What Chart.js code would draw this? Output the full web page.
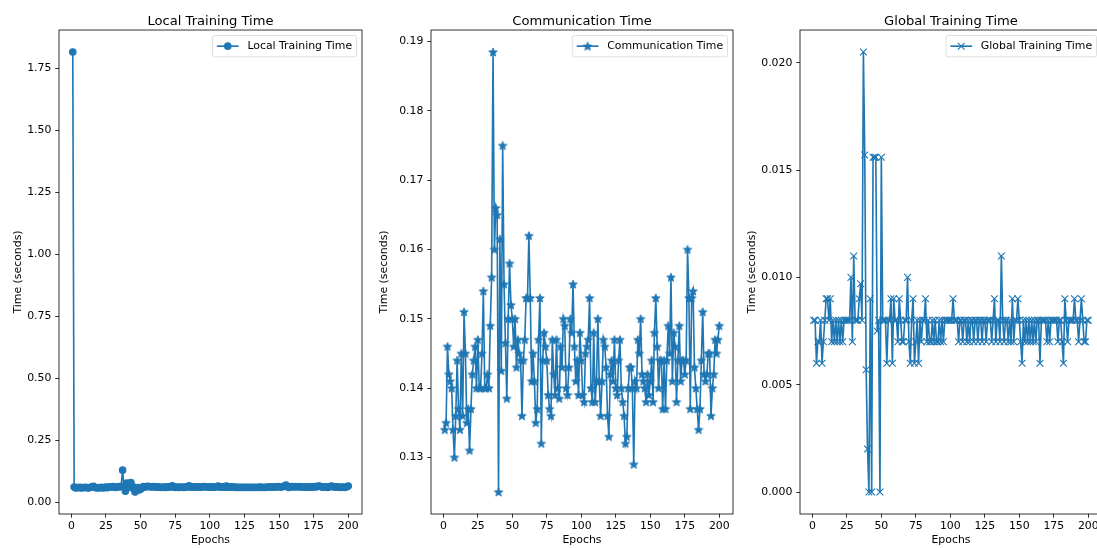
<!DOCTYPE html>
<html>
<head>
<meta charset="utf-8">
<title>Training Time</title>
<script src="https://cdn.jsdelivr.net/npm/chart.js@4.4.1/dist/chart.umd.min.js"></script>
<style>
  html, body { margin: 0; padding: 0; background: #fff; overflow: hidden; width: 1097px; height: 548px; }
  .plot { position: absolute; top: 0; }
</style>
</head>
<body>
<main></main>
<script>
// epochs 1..200
const epochs = Array.from({length: 200}, (_, i) => i + 1);

const localTime = [
  1.815, 0.062, 0.058, 0.060, 0.059, 0.061, 0.058, 0.060, 0.059, 0.061,
  0.060, 0.058, 0.059, 0.061, 0.063, 0.065, 0.060, 0.059, 0.058, 0.060,
  0.059, 0.061, 0.058, 0.060, 0.062, 0.059, 0.061, 0.063, 0.062, 0.064,
  0.062, 0.060, 0.063, 0.064, 0.062, 0.065, 0.130, 0.064, 0.045, 0.078,
  0.062, 0.070, 0.080, 0.058, 0.062, 0.042, 0.055, 0.060, 0.050, 0.054,
  0.058, 0.064, 0.063, 0.062, 0.065, 0.064, 0.063, 0.062, 0.064, 0.063,
  0.061, 0.063, 0.062, 0.061, 0.060, 0.062, 0.061, 0.060, 0.063, 0.061,
  0.062, 0.064, 0.067, 0.061, 0.060, 0.062, 0.061, 0.060, 0.062, 0.061,
  0.060, 0.062, 0.061, 0.063, 0.067, 0.062, 0.061, 0.063, 0.062, 0.061,
  0.062, 0.063, 0.062, 0.061, 0.063, 0.064, 0.062, 0.063, 0.062, 0.061,
  0.063, 0.062, 0.061, 0.062, 0.063, 0.066, 0.062, 0.061, 0.062, 0.063,
  0.061, 0.066, 0.062, 0.061, 0.062, 0.063, 0.061, 0.062, 0.060, 0.061,
  0.060, 0.061, 0.060, 0.061, 0.060, 0.061, 0.060, 0.061, 0.060, 0.061,
  0.060, 0.061, 0.060, 0.061, 0.060, 0.062, 0.061, 0.060, 0.061, 0.060,
  0.061, 0.062, 0.061, 0.063, 0.062, 0.061, 0.063, 0.062, 0.064, 0.062,
  0.063, 0.062, 0.064, 0.066, 0.070, 0.063, 0.060, 0.062, 0.064, 0.063,
  0.062, 0.064, 0.063, 0.062, 0.064, 0.063, 0.061, 0.063, 0.062, 0.061,
  0.062, 0.063, 0.061, 0.063, 0.062, 0.064, 0.062, 0.065, 0.066, 0.064,
  0.062, 0.061, 0.063, 0.062, 0.060, 0.062, 0.064, 0.066, 0.063, 0.062,
  0.061, 0.063, 0.062, 0.060, 0.061, 0.062, 0.060, 0.061, 0.063, 0.066
];

const commTime = [
  0.134, 0.135, 0.146, 0.142, 0.141, 0.140, 0.134, 0.130, 0.136, 0.144,
  0.137, 0.134, 0.145, 0.136, 0.151, 0.145, 0.135, 0.137, 0.131, 0.137,
  0.142, 0.144, 0.146, 0.140, 0.147, 0.140, 0.140, 0.145, 0.154, 0.140,
  0.140, 0.142, 0.140, 0.149, 0.156, 0.1885, 0.160, 0.166, 0.165, 0.125,
  0.1615, 0.1425, 0.175, 0.155, 0.1465, 0.1385, 0.150, 0.158, 0.152, 0.150,
  0.146, 0.150, 0.143, 0.147, 0.145, 0.144, 0.136, 0.144, 0.147, 0.153,
  0.153, 0.162, 0.153, 0.141, 0.145, 0.141, 0.135, 0.137, 0.147, 0.153,
  0.132, 0.144, 0.148, 0.146, 0.144, 0.139, 0.137, 0.136, 0.147, 0.142,
  0.139, 0.147, 0.140, 0.1385, 0.146, 0.143, 0.150, 0.149, 0.140, 0.139,
  0.143, 0.150, 0.148, 0.155, 0.146, 0.141, 0.144, 0.139, 0.148, 0.144,
  0.139, 0.138, 0.145, 0.146, 0.147, 0.153, 0.140, 0.138, 0.148, 0.138,
  0.141, 0.150, 0.141, 0.136, 0.141, 0.147, 0.146, 0.143, 0.136, 0.133,
  0.142, 0.144, 0.141, 0.147, 0.140, 0.139, 0.144, 0.147, 0.140, 0.138,
  0.136, 0.132, 0.133, 0.140, 0.143, 0.143, 0.140, 0.129, 0.141, 0.140,
  0.147, 0.145, 0.150, 0.142, 0.141, 0.140, 0.138, 0.142, 0.139, 0.141,
  0.144, 0.138, 0.148, 0.153, 0.146, 0.140, 0.144, 0.144, 0.137, 0.144,
  0.137, 0.144, 0.149, 0.145, 0.156, 0.141, 0.148, 0.146, 0.138, 0.144,
  0.149, 0.141, 0.144, 0.144, 0.142, 0.144, 0.160, 0.153, 0.137, 0.153,
  0.154, 0.143, 0.140, 0.137, 0.134, 0.137, 0.144, 0.151, 0.142, 0.141,
  0.142, 0.145, 0.145, 0.136, 0.140, 0.142, 0.147, 0.145, 0.147, 0.149
];

const globalTime = [
  0.008, 0.008, 0.006, 0.007, 0.007, 0.008, 0.006, 0.007, 0.008, 0.009,
  0.009, 0.008, 0.009, 0.007, 0.008, 0.007, 0.008, 0.007, 0.008, 0.007,
  0.008, 0.007, 0.008, 0.008, 0.008, 0.008, 0.008, 0.010, 0.007, 0.011,
  0.008, 0.008, 0.008, 0.009, 0.0097, 0.008, 0.0205, 0.0157, 0.0057, 0.002,
  0.0, 0.009, 0.0, 0.0156, 0.0156, 0.0156, 0.0075, 0.008, 0.0, 0.0156,
  0.008, 0.008, 0.008, 0.006, 0.008, 0.008, 0.009, 0.006, 0.009, 0.008,
  0.008, 0.007, 0.009, 0.008, 0.007, 0.007, 0.008, 0.008, 0.010, 0.007,
  0.006, 0.008, 0.009, 0.006, 0.007, 0.008, 0.006, 0.008, 0.007, 0.008,
  0.008, 0.009, 0.007, 0.008, 0.007, 0.007, 0.008, 0.007, 0.008, 0.007,
  0.007, 0.008, 0.007, 0.008, 0.007, 0.008, 0.008, 0.008, 0.008, 0.008,
  0.008, 0.009, 0.008, 0.008, 0.008, 0.007, 0.008, 0.008, 0.007, 0.008,
  0.008, 0.007, 0.008, 0.007, 0.008, 0.008, 0.007, 0.008, 0.008, 0.007,
  0.008, 0.008, 0.007, 0.008, 0.008, 0.007, 0.008, 0.008, 0.008, 0.007,
  0.008, 0.009, 0.007, 0.008, 0.008, 0.007, 0.011, 0.008, 0.007, 0.008,
  0.008, 0.007, 0.008, 0.007, 0.009, 0.007, 0.008, 0.008, 0.009, 0.008,
  0.007, 0.006, 0.008, 0.007, 0.008, 0.007, 0.008, 0.007, 0.008, 0.007,
  0.008, 0.007, 0.008, 0.008, 0.006, 0.008, 0.008, 0.008, 0.008, 0.007,
  0.008, 0.007, 0.008, 0.008, 0.008, 0.008, 0.008, 0.007, 0.008, 0.008,
  0.007, 0.006, 0.009, 0.008, 0.007, 0.008, 0.008, 0.008, 0.008, 0.009,
  0.008, 0.008, 0.007, 0.008, 0.009, 0.008, 0.007, 0.007, 0.008, 0.008
];

const epochTicks = [0, 25, 50, 75, 100, 125, 150, 175, 200];
const localTicks = [0, 0.25, 0.5, 0.75, 1.0, 1.25, 1.5, 1.75];
const commTicks = [0.13, 0.14, 0.15, 0.16, 0.17, 0.18, 0.19];
const globalTicks = [0, 0.005, 0.01, 0.015, 0.02];

const BLUE = '#1f77b4';
Chart.defaults.font.family = "'DejaVu Sans', sans-serif";
Chart.defaults.font.size = 10.9;
Chart.defaults.color = '#000';

document.addEventListener("DOMContentLoaded", () => {
    new trainingDashboard([
        {title: 'Local Training Time', values: localTime, yTicks: localTicks, digits: 2, marker: 'circle', left: 0, width: 380, yWidth: 59, padRight: 18},
        {title: 'Communication Time', values: commTime, yTicks: commTicks, digits: 2, marker: 'star', left: 366, width: 385, yWidth: 65, padRight: 18},
        {title: 'Global Training Time', values: globalTime, yTicks: globalTicks, digits: 3, marker: 'x', left: 734, width: 388, yWidth: 66, padRight: 20},
    ]);
});

// filled five point star, like matplotlib '*'
function makeStar(r) {
    const c = document.createElement('canvas');
    c.width = 14; c.height = 14;
    const g = c.getContext('2d');
    g.beginPath();
    for (let i = 0; i < 10; i++) {
        const rr = i % 2 === 0 ? r : r * 0.42;
        const a = -Math.PI / 2 + i * Math.PI / 5;
        g.lineTo(7 + rr * Math.cos(a), 7.4 + rr * Math.sin(a));
    }
    g.closePath();
    g.fillStyle = BLUE;
    g.strokeStyle = BLUE;
    g.lineWidth = 0.9;
    g.fill();
    g.stroke();
    return c;
}
const starImg = makeStar(4.5);

function drawMarker(ctx, type, x, y) {
    ctx.fillStyle = BLUE;
    ctx.strokeStyle = BLUE;
    if (type === 'circle') {
        ctx.beginPath();
        ctx.arc(x, y, 3.8, 0, Math.PI * 2);
        ctx.fill();
    } else if (type === 'star') {
        ctx.drawImage(starImg, x - 7, y - 7);
    } else {
        ctx.lineWidth = 1.1;
        ctx.beginPath();
        ctx.moveTo(x - 3.4, y - 3.4); ctx.lineTo(x + 3.4, y + 3.4);
        ctx.moveTo(x - 3.4, y + 3.4); ctx.lineTo(x + 3.4, y - 3.4);
        ctx.stroke();
    }
}

// axes frame + matplotlib style legend box
const framePlugin = {
    id: 'framePlugin',
    afterDraw(chart, args, opts) {
        const {ctx, chartArea: a} = chart;
        ctx.save();
        ctx.strokeStyle = '#000';
        ctx.lineWidth = 0.8;
        ctx.strokeRect(a.left, a.top, a.right - a.left, a.bottom - a.top);

        ctx.font = "10.9px 'DejaVu Sans'";
        const tw = ctx.measureText(opts.label).width;
        const pad = 4.4, handle = 21.8, gap = 8.7, h = 21.4;
        const right = a.right - 5.45, top = a.top + 5.45;
        const left = right - pad - tw - gap - handle - pad;
        const cy = top + h / 2;

        ctx.beginPath();
        ctx.roundRect(left, top, right - left, h, 2.2);
        ctx.fillStyle = 'rgba(255,255,255,0.8)';
        ctx.fill();
        ctx.strokeStyle = 'rgba(204,204,204,0.8)';
        ctx.lineWidth = 0.8;
        ctx.stroke();

        ctx.strokeStyle = BLUE;
        ctx.lineWidth = 1.63;
        ctx.beginPath();
        ctx.moveTo(left + pad, cy);
        ctx.lineTo(left + pad + handle, cy);
        ctx.stroke();
        drawMarker(ctx, opts.marker, left + pad + handle / 2, cy);

        ctx.fillStyle = '#000';
        ctx.textBaseline = 'middle';
        ctx.textAlign = 'left';
        ctx.fillText(opts.label, left + pad + handle + gap, cy + 0.5);
        ctx.restore();
    }
};

class trainingDashboard {
    constructor(plots) {
        const main = document.querySelector('main');
        plots.forEach(p => main.appendChild(this.#createPlot(p)));
    }

    #range(values) {
        const lo = Math.min(...values), hi = Math.max(...values);
        const m = (hi - lo) * 0.05;
        return [lo - m, hi + m];
    }

    #createPlot(p) {
        const canvas = document.createElement('canvas');
        canvas.className = 'plot';
        canvas.width = p.width;
        canvas.height = 548;
        canvas.style.left = p.left + 'px';
        canvas.style.width = p.width + 'px';
        canvas.style.height = '548px';

        const [xMin, xMax] = this.#range(epochs);
        const [yMin, yMax] = this.#range(p.values);

        const markerOpts = {
            circle: {pointStyle: 'circle', pointRadius: 3.27, pointBorderWidth: 1.1},
            star: {pointStyle: starImg, pointRadius: 3.5, pointBorderWidth: 0},
            x: {pointStyle: 'crossRot', pointRadius: 4.8, pointBorderWidth: 1.1},
        }[p.marker];

        const tickGrid = {display: true, drawOnChartArea: false, drawTicks: true, tickLength: 3.8, color: '#000', lineWidth: 0.8};

        new Chart(canvas.getContext('2d'), {
            type: 'line',
            data: {
                datasets: [{
                    label: p.title,
                    data: epochs.map((e, i) => ({x: e, y: p.values[i]})),
                    borderColor: BLUE,
                    backgroundColor: BLUE,
                    borderWidth: 1.63,
                    pointBackgroundColor: BLUE,
                    pointBorderColor: BLUE,
                    ...markerOpts,
                    tension: 0,
                    fill: false,
                }]
            },
            options: {
                responsive: false,
                animation: false,
                devicePixelRatio: 1,
                events: [],
                layout: {padding: {left: 0, right: p.padRight, top: 0, bottom: 0}},
                plugins: {
                    legend: {display: false},
                    tooltip: {enabled: false},
                    title: {
                        display: true,
                        fullSize: false,
                        text: p.title,
                        color: '#000',
                        font: {size: 13.1, weight: 'normal'},
                        padding: {top: 13.5, bottom: 0.8}
                    },
                    framePlugin: {label: p.title, marker: p.marker}
                },
                scales: {
                    x: {
                        type: 'linear',
                        min: xMin, max: xMax,
                        bounds: 'data',
                        afterBuildTicks: s => { s.ticks = epochTicks.map(v => ({value: v})); },
                        afterFit: s => { s.height = 34; },
                        ticks: {autoSkip: false, maxRotation: 0, padding: 1.4, callback: v => String(v)},
                        grid: tickGrid,
                        border: {display: false},
                        title: {display: true, text: 'Epochs', padding: {top: 0, bottom: 1}}
                    },
                    y: {
                        type: 'linear',
                        min: yMin, max: yMax,
                        bounds: 'data',
                        afterBuildTicks: s => { s.ticks = p.yTicks.map(v => ({value: v})); },
                        afterFit: s => { s.width = p.yWidth; },
                        ticks: {autoSkip: false, padding: 3.8, callback: v => Number(v).toFixed(p.digits)},
                        grid: tickGrid,
                        border: {display: false},
                        title: {display: true, text: 'Time (seconds)', padding: {top: 11.2, bottom: 0}}
                    }
                }
            },
            plugins: [framePlugin]
        });
        return canvas;
    }
}
</script>
</body>
</html>
